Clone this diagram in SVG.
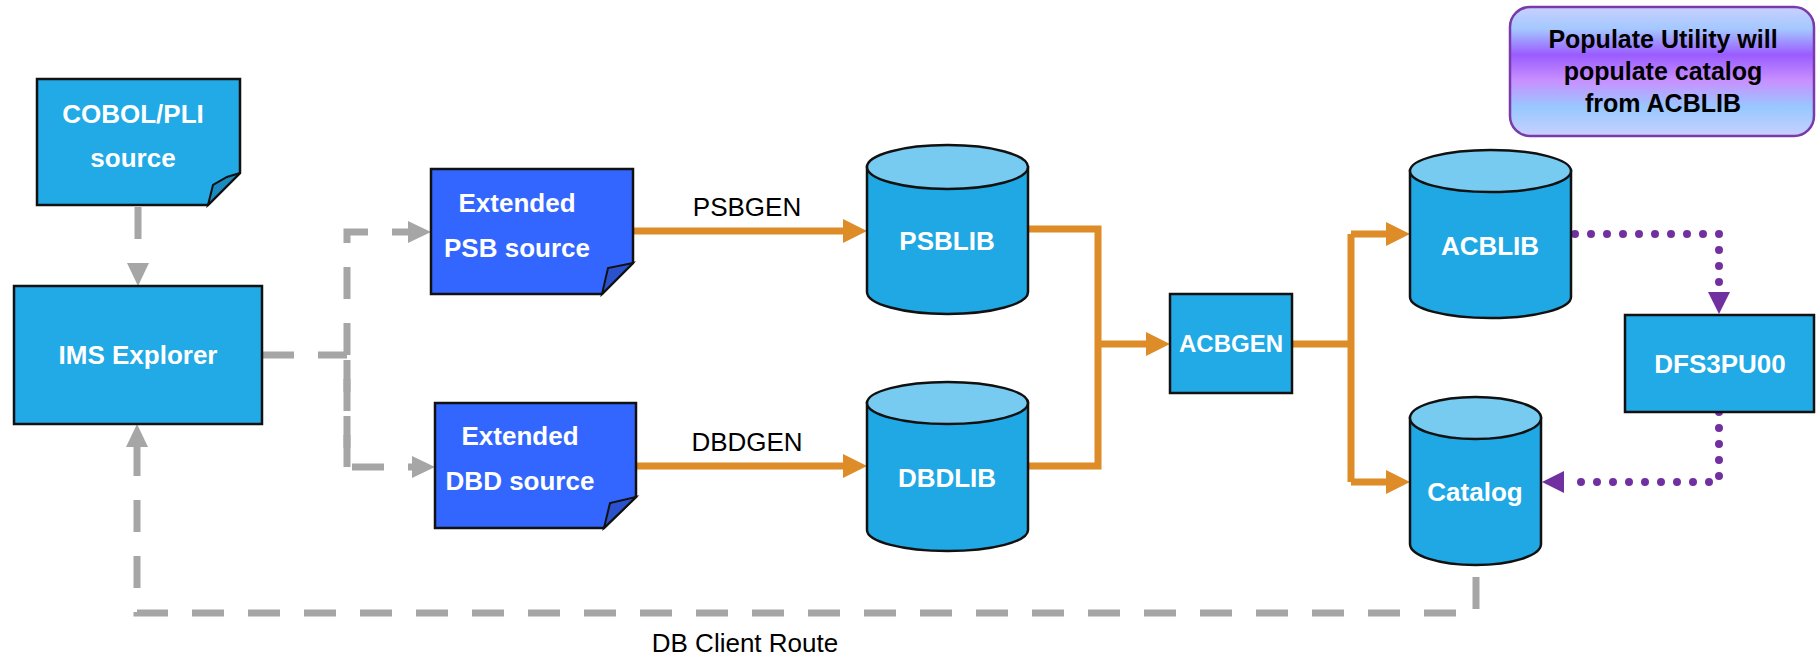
<svg xmlns="http://www.w3.org/2000/svg" width="1816" height="657" viewBox="0 0 1816 657">
<defs>
<style>
.box{fill:#21aae6;stroke:#111;stroke-width:2.5}
.ext{fill:#3366ff;stroke:#111;stroke-width:2.5}
.fold1{fill:#1b8ac0;stroke:#111;stroke-width:2}
.fold2{fill:#2a52cc;stroke:#111;stroke-width:2}
.cylb{fill:#1fa8e4;stroke:#111;stroke-width:2.5}
.cylt{fill:#78cbf0;stroke:#111;stroke-width:2.5}
.wt{font-family:"Liberation Sans",Arial,sans-serif;font-weight:bold;fill:#fff;text-anchor:middle;font-size:26px}
.bt{font-family:"Liberation Sans",Arial,sans-serif;fill:#000;text-anchor:middle;font-size:26px}
.gray{fill:none;stroke:#a6a6a6;stroke-width:7;stroke-dasharray:32 24}
.orange{fill:none;stroke:#dd8c27;stroke-width:7}
.purple{fill:none;stroke:#7030a0;stroke-width:8;stroke-linecap:round;stroke-dasharray:0 16}
</style>
<linearGradient id="pg" x1="0" y1="0" x2="0" y2="1">
<stop offset="0" stop-color="#c8d0ff"/>
<stop offset="0.17" stop-color="#a4c8ff"/>
<stop offset="0.37" stop-color="#9a5cff"/>
<stop offset="0.57" stop-color="#c890ff"/>
<stop offset="0.78" stop-color="#98c8ff"/>
<stop offset="1" stop-color="#c8d0ff"/>
</linearGradient>
<marker id="ao" viewBox="0 -12 24 24" markerWidth="24" markerHeight="24" refX="0" refY="0" orient="auto" markerUnits="userSpaceOnUse"><path d="M0,-12 L24,0 L0,12 Z" fill="#dd8c27"/></marker>
<marker id="ag" viewBox="0 -11 23 22" markerWidth="23" markerHeight="22" refX="0" refY="0" orient="auto" markerUnits="userSpaceOnUse"><path d="M0,-11 L23,0 L0,11 Z" fill="#a6a6a6"/></marker>
<marker id="ap" viewBox="0 -11 22 22" markerWidth="22" markerHeight="22" refX="0" refY="0" orient="auto" markerUnits="userSpaceOnUse"><path d="M0,-11 L22,0 L0,11 Z" fill="#7030a0"/></marker>
</defs>

<g id="connectors">
<path class="gray" d="M138,207 V263" marker-end="url(#ag)"/>
<path class="gray" d="M262,355 H347"/>
<path class="gray" d="M347,467 V232 H408" marker-end="url(#ag)"/>
<path class="gray" d="M347,360 V467 H412" marker-end="url(#ag)"/>
<path class="gray" d="M1476,577 V613 H137 V447" marker-end="url(#ag)"/>
<path class="orange" d="M633,231 H843" marker-end="url(#ao)"/>
<path class="orange" d="M636,466 H843" marker-end="url(#ao)"/>
<path class="orange" d="M1028,229 H1098 V466 H1028"/>
<path class="orange" d="M1098,344 H1146" marker-end="url(#ao)"/>
<path class="orange" d="M1292,344 H1351"/>
<path class="orange" d="M1351,234 V482"/>
<path class="orange" d="M1351,234 H1386" marker-end="url(#ao)"/>
<path class="orange" d="M1351,482 H1386" marker-end="url(#ao)"/>
<path class="purple" d="M1575,234 H1719 V285"/>
<path d="M1708,292 L1730,292 L1719,314 Z" fill="#7030a0"/>
<path class="purple" d="M1719,412 V482 H1570"/>
<path d="M1564,471 L1564,493 L1542,482 Z" fill="#7030a0"/>
<text class="bt" x="747" y="216">PSBGEN</text>
<text class="bt" x="747" y="451">DBDGEN</text>
<text class="bt" x="745" y="652">DB Client Route</text>
</g>

<g id="cobol">
<path class="box" d="M37,79 H240 V173 L208,205 H37 Z"/>
<path class="fold1" d="M240,173 L227,177 L213,185 L208,205 Z"/>
<text class="wt" x="133" y="123">COBOL/PLI</text>
<text class="wt" x="133" y="167">source</text>
</g>

<g id="ims-explorer">
<rect class="box" x="14" y="286" width="248" height="138"/>
<text class="wt" x="138" y="364">IMS Explorer</text>
</g>

<g id="psb-source">
<path class="ext" d="M431,169 H633 V263 L602,294 H431 Z"/>
<path class="fold2" d="M633,263 L608,268 L602,294 Z"/>
<text class="wt" x="517" y="212">Extended</text>
<text class="wt" x="517" y="257">PSB source</text>
</g>

<g id="dbd-source">
<path class="ext" d="M435,403 H636 V497 L604,528 H435 Z"/>
<path class="fold2" d="M636,497 L610,503 L604,528 Z"/>
<text class="wt" x="520" y="445">Extended</text>
<text class="wt" x="520" y="490">DBD source</text>
</g>

<g id="psblib">
<path class="cylb" d="M867,167 V292 A80.5,22 0 0 0 1028,292 V167 Z"/>
<ellipse class="cylt" cx="947.5" cy="167" rx="80.5" ry="22"/>
<text class="wt" x="947" y="250">PSBLIB</text>
</g>

<g id="dbdlib">
<path class="cylb" d="M867,403 V530 A80.5,21 0 0 0 1028,530 V403 Z"/>
<ellipse class="cylt" cx="947.5" cy="403" rx="80.5" ry="21"/>
<text class="wt" x="947" y="487">DBDLIB</text>
</g>

<g id="acbgen">
<rect class="box" x="1170" y="294" width="122" height="99"/>
<text class="wt" x="1231" y="352" style="font-size:24px">ACBGEN</text>
</g>

<g id="acblib">
<path class="cylb" d="M1410,171 V297 A80.5,21 0 0 0 1571,297 V171 Z"/>
<ellipse class="cylt" cx="1490.5" cy="171" rx="80.5" ry="21"/>
<text class="wt" x="1490" y="255">ACBLIB</text>
</g>

<g id="catalog">
<path class="cylb" d="M1410,418 V544 A65.5,21 0 0 0 1541,544 V418 Z"/>
<ellipse class="cylt" cx="1475.5" cy="418" rx="65.5" ry="21"/>
<text class="wt" x="1475" y="501">Catalog</text>
</g>

<g id="dfs3pu00">
<rect class="box" x="1625" y="315" width="189" height="97"/>
<text class="wt" x="1720" y="373">DFS3PU00</text>
</g>

<g id="populate-note">
<rect x="1510" y="7" width="304" height="129" rx="20" ry="20" fill="url(#pg)" stroke="#7a3aaa" stroke-width="2.5"/>
<text class="bt" x="1663" y="48" style="font-weight:bold;font-size:25px">Populate Utility will</text>
<text class="bt" x="1663" y="80" style="font-weight:bold;font-size:25px">populate catalog</text>
<text class="bt" x="1663" y="112" style="font-weight:bold;font-size:25px">from ACBLIB</text>
</g>
</svg>
